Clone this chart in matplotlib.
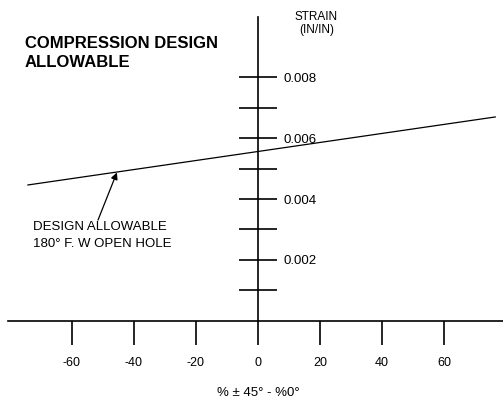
import numpy as np
import matplotlib
matplotlib.use('Agg')
import matplotlib.pyplot as plt
from matplotlib.ticker import FixedLocator, FixedFormatter

plt.rcParams['font.family'] = ['Liberation Sans', 'DejaVu Sans']

# data
pct = [-74.2, 76.5]
strain = [0.00446, 0.00669]

x_ticks = [-60, -40, -20, 0, 20, 40, 60]
x_labels = ['-60', '-40', '-20', '0', '20', '40', '60']
y_ticks = [0.001, 0.002, 0.003, 0.004, 0.005, 0.006, 0.007, 0.008]
y_labels = ['', '0.002', '', '0.004', '', '0.006', '', '0.008']

fig = plt.figure(figsize=(5.03, 4.07), dpi=100)
ax = fig.add_axes([0, 0, 1, 1])
ax.set_xlim(-83.2, 79.0)
ax.set_ylim(-0.00282, 0.010525)

ax.plot(pct, strain, color='k', lw=0.9)

# axes crossing at zero
for s in ['top', 'left']:
    ax.spines[s].set_visible(False)
ax.spines['right'].set_position(('data', 0))
ax.spines['bottom'].set_position(('data', 0))
ax.spines['right'].set_bounds(0, 0.00997)
ax.spines['bottom'].set_bounds(-80.6, 79.0)
ax.spines['right'].set_linewidth(1.2)
ax.spines['bottom'].set_linewidth(1.2)

ax.yaxis.tick_right()
ax.yaxis.set_major_locator(FixedLocator(y_ticks))
ax.yaxis.set_major_formatter(FixedFormatter(y_labels))
ax.tick_params(axis='y', direction='inout', length=27, width=1.2, pad=4.5, labelsize=9.5)

ax.xaxis.set_major_locator(FixedLocator(x_ticks))
ax.xaxis.set_major_formatter(FixedFormatter(x_labels))
ax.tick_params(axis='x', direction='out', length=17, width=1.2, pad=9, labelsize=9)

ax.text(18.8, 0.00975, 'STRAIN\n(IN/IN)', ha='center', va='center', fontsize=8.5, linespacing=1.1)
ax.text(0, -0.00236, '% \u00b1 45\u00b0 - %0\u00b0', ha='center', va='center', fontsize=9.5)

ax.text(-75.2, 0.00879, 'COMPRESSION DESIGN\nALLOWABLE', ha='left', va='center',
        fontsize=12, fontweight='bold', linespacing=1.35)

ax.text(-72.6, 0.00327, 'DESIGN ALLOWABLE\n180\u00b0 F. W OPEN HOLE', ha='left', va='top',
        fontsize=9.5, linespacing=1.5)
ax.annotate('', xy=(-45.5, 0.00487), xytext=(-51.6, 0.00331),
            arrowprops=dict(arrowstyle='-|>', color='k', lw=0.9, mutation_scale=10, shrinkA=0, shrinkB=0))

fig.savefig('out.png', dpi=100)
